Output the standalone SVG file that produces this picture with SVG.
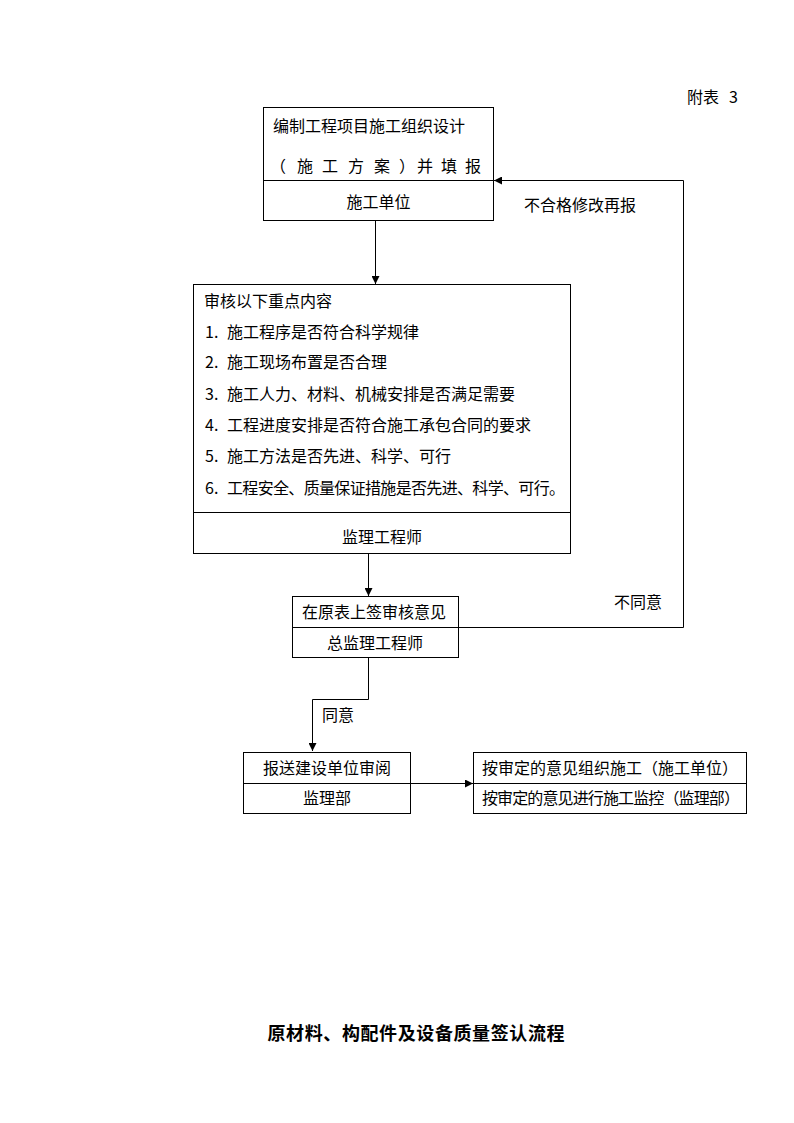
<svg xmlns="http://www.w3.org/2000/svg" width="794" height="1123" viewBox="0 0 794 1123">
<style>
text{font-family:"Noto Sans CJK SC","Noto Sans",sans-serif;font-size:16px;fill:#000}
.c{text-anchor:middle}
.box{fill:#fff;stroke:#000;stroke-width:1}
.ln{fill:none;stroke:#000;stroke-width:1}
.t{font-size:18px;font-weight:bold}
</style>
<defs>
<marker id="ah" viewBox="0 0 10 10" refX="10" refY="5" markerWidth="8" markerHeight="8" markerUnits="userSpaceOnUse" orient="auto">
<path d="M0,0 L10,5 L0,10 z" fill="#000"/>
</marker>
</defs>
<rect width="794" height="1123" fill="#fff"/>
<text x="687" y="103">附表<tspan x="729">3</tspan></text>

<g id="connectors">
<path class="ln" d="M375.5,221 V284" marker-end="url(#ah)"/>
<path class="ln" d="M368.5,554 V596" marker-end="url(#ah)"/>
<path class="ln" d="M459,627.5 H683.5 V180.5 H494" marker-end="url(#ah)"/>
<path class="ln" d="M368.5,658 V699.5 H312.5 V751" marker-end="url(#ah)"/>
<path class="ln" d="M411,783.5 H473" marker-end="url(#ah)"/>
<text x="524" y="211">不合格修改再报</text>
<text x="614" y="608">不同意</text>
<text x="322" y="721">同意</text>
</g>

<g id="node1">
<rect class="box" x="263.5" y="107.5" width="230" height="113"/>
<line class="ln" x1="263.5" y1="180.5" x2="493.5" y2="180.5"/>
<text x="273" y="132">编制工程项目施工组织设计</text>
<text x="270 297 322 348 374 399 417 441 465" y="172">（施工方案）并填报</text>
<text class="c" x="378.5" y="208">施工单位</text>
</g>

<g id="node2">
<rect class="box" x="193.5" y="284.5" width="377" height="269"/>
<line class="ln" x1="193.5" y1="512.5" x2="570.5" y2="512.5"/>
<text x="204" y="307">审核以下重点内容</text>
<text x="205" y="338">1.<tspan x="227">施工程序是否符合科学规律</tspan></text>
<text x="205" y="368">2.<tspan x="227">施工现场布置是否合理</tspan></text>
<text x="205" y="400">3.<tspan x="227">施工人力、材料、机械安排是否满足需要</tspan></text>
<text x="205" y="431">4.<tspan x="227">工程进度安排是否符合施工承包合同的要求</tspan></text>
<text x="205" y="462">5.<tspan x="227">施工方法是否先进、科学、可行</tspan></text>
<text x="205" y="494">6.<tspan x="227" textLength="338" lengthAdjust="spacing">工程安全、质量保证措施是否先进、科学、可行。</tspan></text>
<text class="c" x="382" y="543">监理工程师</text>
</g>

<g id="node3">
<rect class="box" x="292.5" y="596.5" width="166" height="61"/>
<line class="ln" x1="292.5" y1="627.5" x2="458.5" y2="627.5"/>
<text class="c" x="374" y="618">在原表上签审核意见</text>
<text class="c" x="375" y="649">总监理工程师</text>
</g>

<g id="node4">
<rect class="box" x="243.5" y="752.5" width="167" height="61"/>
<line class="ln" x1="243.5" y1="783.5" x2="410.5" y2="783.5"/>
<text class="c" x="327" y="774">报送建设单位审阅</text>
<text class="c" x="327" y="804">监理部</text>
</g>

<g id="node5">
<rect class="box" x="473.5" y="752.5" width="273" height="61"/>
<line class="ln" x1="473.5" y1="783.5" x2="746.5" y2="783.5"/>
<text x="482" y="774" textLength="256" lengthAdjust="spacing">按审定的意见组织施工（施工单位）</text>
<text x="482" y="804" textLength="258" lengthAdjust="spacing">按审定的意见进行施工监控（监理部）</text>
</g>

<text class="c t" x="416" y="1040" textLength="297" lengthAdjust="spacing">原材料、构配件及设备质量签认流程</text>
</svg>
